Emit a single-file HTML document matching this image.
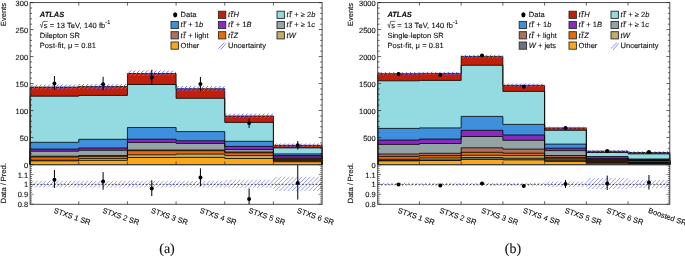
<!DOCTYPE html>
<html><head><meta charset="utf-8"><title>ATLAS ttH STXS post-fit yields</title>
<style>
html,body{margin:0;padding:0;background:#fff;}
body{width:685px;height:256px;overflow:hidden;}
svg{display:block;will-change:transform;}
svg text{font-family:"Liberation Sans",sans-serif;font-size:7.5px;fill:#111;stroke:#111;stroke-width:0.12px;text-rendering:geometricPrecision;}
svg text.cap{font-family:"Liberation Serif",serif;font-size:14px;}
</style></head>
<body>
<svg width="685" height="256" viewBox="0 0 685 256">
<defs>
<pattern id="hatch" width="4.2" height="4.2" patternUnits="userSpaceOnUse">
<path d="M-1,5.2L5.2,-1M-1,1L1,-1M3.2,5.2L5.2,3.2" stroke="#5c5cf5" stroke-width="0.75"/>
</pattern>
</defs>
<rect width="685" height="256" fill="#fff"/>
<path d="M30.10,164.5 L30.10,87.10 L78.77,87.10 L78.77,86.60 L127.43,86.60 L127.43,73.50 L176.10,73.50 L176.10,88.70 L224.77,88.70 L224.77,116.00 L273.43,116.00 L273.43,145.30 L322.10,145.30 L322.10,164.5Z" fill="#c0200a"/>
<path d="M30.10,164.5 L30.10,96.20 L78.77,96.20 L78.77,95.40 L127.43,95.40 L127.43,84.50 L176.10,84.50 L176.10,98.30 L224.77,98.30 L224.77,122.40 L273.43,122.40 L273.43,147.90 L322.10,147.90 L322.10,164.5Z" fill="#93dbe0"/>
<path d="M30.10,164.5 L30.10,142.30 L78.77,142.30 L78.77,139.30 L127.43,139.30 L127.43,127.50 L176.10,127.50 L176.10,131.60 L224.77,131.60 L224.77,141.30 L273.43,141.30 L273.43,153.90 L322.10,153.90 L322.10,164.5Z" fill="#3e8fdc"/>
<path d="M30.10,164.5 L30.10,149.10 L78.77,149.10 L78.77,148.00 L127.43,148.00 L127.43,139.20 L176.10,139.20 L176.10,140.80 L224.77,140.80 L224.77,146.40 L273.43,146.40 L273.43,155.60 L322.10,155.60 L322.10,164.5Z" fill="#8a2bbf"/>
<path d="M30.10,164.5 L30.10,151.20 L78.77,151.20 L78.77,150.30 L127.43,150.30 L127.43,142.40 L176.10,142.40 L176.10,143.40 L224.77,143.40 L224.77,149.50 L273.43,149.50 L273.43,157.20 L322.10,157.20 L322.10,164.5Z" fill="#92a5a4"/>
<path d="M30.10,164.5 L30.10,156.20 L78.77,156.20 L78.77,155.60 L127.43,155.60 L127.43,150.00 L176.10,150.00 L176.10,150.00 L224.77,150.00 L224.77,152.00 L273.43,152.00 L273.43,158.60 L322.10,158.60 L322.10,164.5Z" fill="#b07060"/>
<path d="M30.10,164.5 L30.10,157.00 L78.77,157.00 L78.77,156.30 L127.43,156.30 L127.43,150.70 L176.10,150.70 L176.10,150.70 L224.77,150.70 L224.77,152.80 L273.43,152.80 L273.43,159.80 L322.10,159.80 L322.10,164.5Z" fill="#e86a00"/>
<path d="M30.10,164.5 L30.10,160.20 L78.77,160.20 L78.77,158.60 L127.43,158.60 L127.43,154.80 L176.10,154.80 L176.10,154.10 L224.77,154.10 L224.77,155.60 L273.43,155.60 L273.43,160.80 L322.10,160.80 L322.10,164.5Z" fill="#c4ad6a"/>
<path d="M30.10,164.5 L30.10,160.90 L78.77,160.90 L78.77,160.40 L127.43,160.40 L127.43,157.50 L176.10,157.50 L176.10,157.40 L224.77,157.40 L224.77,158.50 L273.43,158.50 L273.43,161.80 L322.10,161.80 L322.10,164.5Z" fill="#fba818"/>
<path d="M30.10,164.5 L30.10,160.90 L78.77,160.90 L78.77,160.40 L127.43,160.40 L127.43,157.50 L176.10,157.50 L176.10,157.40 L224.77,157.40 L224.77,158.50 L273.43,158.50 L273.43,161.80 L322.10,161.80 L322.10,164.5" fill="none" stroke="#000" stroke-width="0.8"/>
<path d="M30.10,164.5 L30.10,160.20 L78.77,160.20 L78.77,158.60 L127.43,158.60 L127.43,154.80 L176.10,154.80 L176.10,154.10 L224.77,154.10 L224.77,155.60 L273.43,155.60 L273.43,160.80 L322.10,160.80 L322.10,164.5" fill="none" stroke="#000" stroke-width="0.8"/>
<path d="M30.10,164.5 L30.10,157.00 L78.77,157.00 L78.77,156.30 L127.43,156.30 L127.43,150.70 L176.10,150.70 L176.10,150.70 L224.77,150.70 L224.77,152.80 L273.43,152.80 L273.43,159.80 L322.10,159.80 L322.10,164.5" fill="none" stroke="#000" stroke-width="0.8"/>
<path d="M30.10,164.5 L30.10,156.20 L78.77,156.20 L78.77,155.60 L127.43,155.60 L127.43,150.00 L176.10,150.00 L176.10,150.00 L224.77,150.00 L224.77,152.00 L273.43,152.00 L273.43,158.60 L322.10,158.60 L322.10,164.5" fill="none" stroke="#000" stroke-width="0.8"/>
<path d="M30.10,164.5 L30.10,151.20 L78.77,151.20 L78.77,150.30 L127.43,150.30 L127.43,142.40 L176.10,142.40 L176.10,143.40 L224.77,143.40 L224.77,149.50 L273.43,149.50 L273.43,157.20 L322.10,157.20 L322.10,164.5" fill="none" stroke="#000" stroke-width="0.8"/>
<path d="M30.10,164.5 L30.10,149.10 L78.77,149.10 L78.77,148.00 L127.43,148.00 L127.43,139.20 L176.10,139.20 L176.10,140.80 L224.77,140.80 L224.77,146.40 L273.43,146.40 L273.43,155.60 L322.10,155.60 L322.10,164.5" fill="none" stroke="#000" stroke-width="0.8"/>
<path d="M30.10,164.5 L30.10,142.30 L78.77,142.30 L78.77,139.30 L127.43,139.30 L127.43,127.50 L176.10,127.50 L176.10,131.60 L224.77,131.60 L224.77,141.30 L273.43,141.30 L273.43,153.90 L322.10,153.90 L322.10,164.5" fill="none" stroke="#000" stroke-width="0.8"/>
<path d="M30.10,164.5 L30.10,96.20 L78.77,96.20 L78.77,95.40 L127.43,95.40 L127.43,84.50 L176.10,84.50 L176.10,98.30 L224.77,98.30 L224.77,122.40 L273.43,122.40 L273.43,147.90 L322.10,147.90 L322.10,164.5" fill="none" stroke="#000" stroke-width="0.8"/>
<path d="M30.10,164.5 L30.10,87.10 L78.77,87.10 L78.77,86.60 L127.43,86.60 L127.43,73.50 L176.10,73.50 L176.10,88.70 L224.77,88.70 L224.77,116.00 L273.43,116.00 L273.43,145.30 L322.10,145.30 L322.10,164.5" fill="none" stroke="#000" stroke-width="0.8"/>
<rect x="273.43" y="158.2" width="48.67" height="3.40" fill="#2a1708" fill-opacity="0.6"/>
<clipPath id="h1"><rect x="30.10" y="84.40" width="48.67" height="5.20"/></clipPath><path clip-path="url(#h1)" d="M23.30,90.10L29.50,83.90M27.50,90.10L33.70,83.90M31.70,90.10L37.90,83.90M35.90,90.10L42.10,83.90M40.10,90.10L46.30,83.90M44.30,90.10L50.50,83.90M48.50,90.10L54.70,83.90M52.70,90.10L58.90,83.90M56.90,90.10L63.10,83.90M61.10,90.10L67.30,83.90M65.30,90.10L71.50,83.90M69.50,90.10L75.70,83.90M73.70,90.10L79.90,83.90M77.90,90.10L84.10,83.90M82.10,90.10L88.30,83.90" stroke="#6c6cf8" stroke-width="1.0" fill="none"/>
<clipPath id="h2"><rect x="78.77" y="84.00" width="48.67" height="5.20"/></clipPath><path clip-path="url(#h2)" d="M69.90,89.70L76.10,83.50M74.10,89.70L80.30,83.50M78.30,89.70L84.50,83.50M82.50,89.70L88.70,83.50M86.70,89.70L92.90,83.50M90.90,89.70L97.10,83.50M95.10,89.70L101.30,83.50M99.30,89.70L105.50,83.50M103.50,89.70L109.70,83.50M107.70,89.70L113.90,83.50M111.90,89.70L118.10,83.50M116.10,89.70L122.30,83.50M120.30,89.70L126.50,83.50M124.50,89.70L130.70,83.50M128.70,89.70L134.90,83.50" stroke="#6c6cf8" stroke-width="1.0" fill="none"/>
<clipPath id="h3"><rect x="127.43" y="70.50" width="48.67" height="5.50"/></clipPath><path clip-path="url(#h3)" d="M120.90,76.50L127.40,70.00M125.10,76.50L131.60,70.00M129.30,76.50L135.80,70.00M133.50,76.50L140.00,70.00M137.70,76.50L144.20,70.00M141.90,76.50L148.40,70.00M146.10,76.50L152.60,70.00M150.30,76.50L156.80,70.00M154.50,76.50L161.00,70.00M158.70,76.50L165.20,70.00M162.90,76.50L169.40,70.00M167.10,76.50L173.60,70.00M171.30,76.50L177.80,70.00M175.50,76.50L182.00,70.00M179.70,76.50L186.20,70.00" stroke="#6c6cf8" stroke-width="1.0" fill="none"/>
<clipPath id="h4"><rect x="176.10" y="86.00" width="48.67" height="5.20"/></clipPath><path clip-path="url(#h4)" d="M168.70,91.70L174.90,85.50M172.90,91.70L179.10,85.50M177.10,91.70L183.30,85.50M181.30,91.70L187.50,85.50M185.50,91.70L191.70,85.50M189.70,91.70L195.90,85.50M193.90,91.70L200.10,85.50M198.10,91.70L204.30,85.50M202.30,91.70L208.50,85.50M206.50,91.70L212.70,85.50M210.70,91.70L216.90,85.50M214.90,91.70L221.10,85.50M219.10,91.70L225.30,85.50M223.30,91.70L229.50,85.50M227.50,91.70L233.70,85.50" stroke="#6c6cf8" stroke-width="1.0" fill="none"/>
<clipPath id="h5"><rect x="224.77" y="113.60" width="48.67" height="4.60"/></clipPath><path clip-path="url(#h5)" d="M217.30,118.70L222.90,113.10M221.50,118.70L227.10,113.10M225.70,118.70L231.30,113.10M229.90,118.70L235.50,113.10M234.10,118.70L239.70,113.10M238.30,118.70L243.90,113.10M242.50,118.70L248.10,113.10M246.70,118.70L252.30,113.10M250.90,118.70L256.50,113.10M255.10,118.70L260.70,113.10M259.30,118.70L264.90,113.10M263.50,118.70L269.10,113.10M267.70,118.70L273.30,113.10M271.90,118.70L277.50,113.10M276.10,118.70L281.70,113.10" stroke="#6c6cf8" stroke-width="1.0" fill="none"/>
<clipPath id="h6"><rect x="273.43" y="143.40" width="48.67" height="3.60"/></clipPath><path clip-path="url(#h6)" d="M268.30,147.50L272.90,142.90M272.50,147.50L277.10,142.90M276.70,147.50L281.30,142.90M280.90,147.50L285.50,142.90M285.10,147.50L289.70,142.90M289.30,147.50L293.90,142.90M293.50,147.50L298.10,142.90M297.70,147.50L302.30,142.90M301.90,147.50L306.50,142.90M306.10,147.50L310.70,142.90M310.30,147.50L314.90,142.90M314.50,147.50L319.10,142.90M318.70,147.50L323.30,142.90M322.90,147.50L327.50,142.90" stroke="#6c6cf8" stroke-width="1.0" fill="none"/>
<rect x="30.1" y="2.6" width="292.00" height="161.90" fill="none" stroke="#3a3a3a" stroke-width="0.9"/>
<path d="M30.1,164.50h3.4 M322.1,164.50h-3.4" stroke="#222" stroke-width="0.7"/>
<path d="M30.1,159.10h1.9 M322.1,159.10h-1.9" stroke="#222" stroke-width="0.7"/>
<path d="M30.1,153.71h1.9 M322.1,153.71h-1.9" stroke="#222" stroke-width="0.7"/>
<path d="M30.1,148.31h1.9 M322.1,148.31h-1.9" stroke="#222" stroke-width="0.7"/>
<path d="M30.1,142.91h1.9 M322.1,142.91h-1.9" stroke="#222" stroke-width="0.7"/>
<path d="M30.1,137.52h3.4 M322.1,137.52h-3.4" stroke="#222" stroke-width="0.7"/>
<path d="M30.1,132.12h1.9 M322.1,132.12h-1.9" stroke="#222" stroke-width="0.7"/>
<path d="M30.1,126.72h1.9 M322.1,126.72h-1.9" stroke="#222" stroke-width="0.7"/>
<path d="M30.1,121.33h1.9 M322.1,121.33h-1.9" stroke="#222" stroke-width="0.7"/>
<path d="M30.1,115.93h1.9 M322.1,115.93h-1.9" stroke="#222" stroke-width="0.7"/>
<path d="M30.1,110.53h3.4 M322.1,110.53h-3.4" stroke="#222" stroke-width="0.7"/>
<path d="M30.1,105.14h1.9 M322.1,105.14h-1.9" stroke="#222" stroke-width="0.7"/>
<path d="M30.1,99.74h1.9 M322.1,99.74h-1.9" stroke="#222" stroke-width="0.7"/>
<path d="M30.1,94.34h1.9 M322.1,94.34h-1.9" stroke="#222" stroke-width="0.7"/>
<path d="M30.1,88.95h1.9 M322.1,88.95h-1.9" stroke="#222" stroke-width="0.7"/>
<path d="M30.1,83.55h3.4 M322.1,83.55h-3.4" stroke="#222" stroke-width="0.7"/>
<path d="M30.1,78.15h1.9 M322.1,78.15h-1.9" stroke="#222" stroke-width="0.7"/>
<path d="M30.1,72.76h1.9 M322.1,72.76h-1.9" stroke="#222" stroke-width="0.7"/>
<path d="M30.1,67.36h1.9 M322.1,67.36h-1.9" stroke="#222" stroke-width="0.7"/>
<path d="M30.1,61.96h1.9 M322.1,61.96h-1.9" stroke="#222" stroke-width="0.7"/>
<path d="M30.1,56.57h3.4 M322.1,56.57h-3.4" stroke="#222" stroke-width="0.7"/>
<path d="M30.1,51.17h1.9 M322.1,51.17h-1.9" stroke="#222" stroke-width="0.7"/>
<path d="M30.1,45.77h1.9 M322.1,45.77h-1.9" stroke="#222" stroke-width="0.7"/>
<path d="M30.1,40.38h1.9 M322.1,40.38h-1.9" stroke="#222" stroke-width="0.7"/>
<path d="M30.1,34.98h1.9 M322.1,34.98h-1.9" stroke="#222" stroke-width="0.7"/>
<path d="M30.1,29.58h3.4 M322.1,29.58h-3.4" stroke="#222" stroke-width="0.7"/>
<path d="M30.1,24.19h1.9 M322.1,24.19h-1.9" stroke="#222" stroke-width="0.7"/>
<path d="M30.1,18.79h1.9 M322.1,18.79h-1.9" stroke="#222" stroke-width="0.7"/>
<path d="M30.1,13.39h1.9 M322.1,13.39h-1.9" stroke="#222" stroke-width="0.7"/>
<path d="M30.1,8.00h1.9 M322.1,8.00h-1.9" stroke="#222" stroke-width="0.7"/>
<path d="M30.1,2.60h3.4 M322.1,2.60h-3.4" stroke="#222" stroke-width="0.7"/>
<path d="M78.77,2.6v3 M78.77,164.5v-3" stroke="#222" stroke-width="0.7"/>
<path d="M127.43,2.6v3 M127.43,164.5v-3" stroke="#222" stroke-width="0.7"/>
<path d="M176.10,2.6v3 M176.10,164.5v-3" stroke="#222" stroke-width="0.7"/>
<path d="M224.77,2.6v3 M224.77,164.5v-3" stroke="#222" stroke-width="0.7"/>
<path d="M273.43,2.6v3 M273.43,164.5v-3" stroke="#222" stroke-width="0.7"/>
<text x="28.1" y="167.60" text-anchor="end">0</text>
<text x="28.1" y="140.62" text-anchor="end">50</text>
<text x="28.1" y="113.63" text-anchor="end">100</text>
<text x="28.1" y="86.65" text-anchor="end">150</text>
<text x="28.1" y="59.67" text-anchor="end">200</text>
<text x="28.1" y="32.68" text-anchor="end">250</text>
<text x="28.1" y="5.70" text-anchor="end">300</text>
<clipPath id="h7"><rect x="30.10" y="180.80" width="48.67" height="6.80"/></clipPath><path clip-path="url(#h7)" d="M21.90,188.10L29.70,180.30M26.10,188.10L33.90,180.30M30.30,188.10L38.10,180.30M34.50,188.10L42.30,180.30M38.70,188.10L46.50,180.30M42.90,188.10L50.70,180.30M47.10,188.10L54.90,180.30M51.30,188.10L59.10,180.30M55.50,188.10L63.30,180.30M59.70,188.10L67.50,180.30M63.90,188.10L71.70,180.30M68.10,188.10L75.90,180.30M72.30,188.10L80.10,180.30M76.50,188.10L84.30,180.30M80.70,188.10L88.50,180.30" stroke="#7a7af6" stroke-width="0.75" fill="none"/>
<clipPath id="h8"><rect x="78.77" y="180.80" width="48.67" height="6.80"/></clipPath><path clip-path="url(#h8)" d="M68.10,188.10L75.90,180.30M72.30,188.10L80.10,180.30M76.50,188.10L84.30,180.30M80.70,188.10L88.50,180.30M84.90,188.10L92.70,180.30M89.10,188.10L96.90,180.30M93.30,188.10L101.10,180.30M97.50,188.10L105.30,180.30M101.70,188.10L109.50,180.30M105.90,188.10L113.70,180.30M110.10,188.10L117.90,180.30M114.30,188.10L122.10,180.30M118.50,188.10L126.30,180.30M122.70,188.10L130.50,180.30M126.90,188.10L134.70,180.30M131.10,188.10L138.90,180.30" stroke="#7a7af6" stroke-width="0.75" fill="none"/>
<clipPath id="h9"><rect x="127.43" y="180.80" width="48.67" height="6.80"/></clipPath><path clip-path="url(#h9)" d="M118.50,188.10L126.30,180.30M122.70,188.10L130.50,180.30M126.90,188.10L134.70,180.30M131.10,188.10L138.90,180.30M135.30,188.10L143.10,180.30M139.50,188.10L147.30,180.30M143.70,188.10L151.50,180.30M147.90,188.10L155.70,180.30M152.10,188.10L159.90,180.30M156.30,188.10L164.10,180.30M160.50,188.10L168.30,180.30M164.70,188.10L172.50,180.30M168.90,188.10L176.70,180.30M173.10,188.10L180.90,180.30M177.30,188.10L185.10,180.30" stroke="#7a7af6" stroke-width="0.75" fill="none"/>
<clipPath id="h10"><rect x="176.10" y="180.80" width="48.67" height="6.80"/></clipPath><path clip-path="url(#h10)" d="M164.70,188.10L172.50,180.30M168.90,188.10L176.70,180.30M173.10,188.10L180.90,180.30M177.30,188.10L185.10,180.30M181.50,188.10L189.30,180.30M185.70,188.10L193.50,180.30M189.90,188.10L197.70,180.30M194.10,188.10L201.90,180.30M198.30,188.10L206.10,180.30M202.50,188.10L210.30,180.30M206.70,188.10L214.50,180.30M210.90,188.10L218.70,180.30M215.10,188.10L222.90,180.30M219.30,188.10L227.10,180.30M223.50,188.10L231.30,180.30M227.70,188.10L235.50,180.30" stroke="#7a7af6" stroke-width="0.75" fill="none"/>
<clipPath id="h11"><rect x="224.77" y="179.70" width="48.67" height="8.10"/></clipPath><path clip-path="url(#h11)" d="M214.90,188.30L224.00,179.20M219.10,188.30L228.20,179.20M223.30,188.30L232.40,179.20M227.50,188.30L236.60,179.20M231.70,188.30L240.80,179.20M235.90,188.30L245.00,179.20M240.10,188.30L249.20,179.20M244.30,188.30L253.40,179.20M248.50,188.30L257.60,179.20M252.70,188.30L261.80,179.20M256.90,188.30L266.00,179.20M261.10,188.30L270.20,179.20M265.30,188.30L274.40,179.20M269.50,188.30L278.60,179.20M273.70,188.30L282.80,179.20" stroke="#7a7af6" stroke-width="0.75" fill="none"/>
<clipPath id="h12"><rect x="273.43" y="176.70" width="48.67" height="14.40"/></clipPath><path clip-path="url(#h12)" d="M257.80,191.60L273.20,176.20M262.00,191.60L277.40,176.20M266.20,191.60L281.60,176.20M270.40,191.60L285.80,176.20M274.60,191.60L290.00,176.20M278.80,191.60L294.20,176.20M283.00,191.60L298.40,176.20M287.20,191.60L302.60,176.20M291.40,191.60L306.80,176.20M295.60,191.60L311.00,176.20M299.80,191.60L315.20,176.20M304.00,191.60L319.40,176.20M308.20,191.60L323.60,176.20M312.40,191.60L327.80,176.20M316.60,191.60L332.00,176.20M320.80,191.60L336.20,176.20M325.00,191.60L340.40,176.20" stroke="#7a7af6" stroke-width="0.75" fill="none"/>
<path d="M30.1,184.40H322.1" stroke="#222" stroke-width="0.8" stroke-dasharray="1.7,1.7"/>
<rect x="30.1" y="164.9" width="292.00" height="39.40" fill="none" stroke="#3a3a3a" stroke-width="0.9"/>
<path d="M30.1,204.10h3.4 M322.1,204.10h-3.4" stroke="#222" stroke-width="0.6"/>
<path d="M30.1,202.13h1.9 M322.1,202.13h-1.9" stroke="#222" stroke-width="0.6"/>
<path d="M30.1,200.16h1.9 M322.1,200.16h-1.9" stroke="#222" stroke-width="0.6"/>
<path d="M30.1,198.19h1.9 M322.1,198.19h-1.9" stroke="#222" stroke-width="0.6"/>
<path d="M30.1,196.22h1.9 M322.1,196.22h-1.9" stroke="#222" stroke-width="0.6"/>
<path d="M30.1,194.25h3.4 M322.1,194.25h-3.4" stroke="#222" stroke-width="0.6"/>
<path d="M30.1,192.28h1.9 M322.1,192.28h-1.9" stroke="#222" stroke-width="0.6"/>
<path d="M30.1,190.31h1.9 M322.1,190.31h-1.9" stroke="#222" stroke-width="0.6"/>
<path d="M30.1,188.34h1.9 M322.1,188.34h-1.9" stroke="#222" stroke-width="0.6"/>
<path d="M30.1,186.37h1.9 M322.1,186.37h-1.9" stroke="#222" stroke-width="0.6"/>
<path d="M30.1,184.40h3.4 M322.1,184.40h-3.4" stroke="#222" stroke-width="0.6"/>
<path d="M30.1,182.43h1.9 M322.1,182.43h-1.9" stroke="#222" stroke-width="0.6"/>
<path d="M30.1,180.46h1.9 M322.1,180.46h-1.9" stroke="#222" stroke-width="0.6"/>
<path d="M30.1,178.49h1.9 M322.1,178.49h-1.9" stroke="#222" stroke-width="0.6"/>
<path d="M30.1,176.52h1.9 M322.1,176.52h-1.9" stroke="#222" stroke-width="0.6"/>
<path d="M30.1,174.55h3.4 M322.1,174.55h-3.4" stroke="#222" stroke-width="0.6"/>
<path d="M30.1,172.58h1.9 M322.1,172.58h-1.9" stroke="#222" stroke-width="0.6"/>
<path d="M30.1,170.61h1.9 M322.1,170.61h-1.9" stroke="#222" stroke-width="0.6"/>
<path d="M30.1,168.64h1.9 M322.1,168.64h-1.9" stroke="#222" stroke-width="0.6"/>
<path d="M30.1,166.67h1.9 M322.1,166.67h-1.9" stroke="#222" stroke-width="0.6"/>
<path d="M30.1,164.70h3.4 M322.1,164.70h-3.4" stroke="#222" stroke-width="0.6"/>
<path d="M78.77,204.3v-3" stroke="#222" stroke-width="0.7"/>
<path d="M127.43,204.3v-3" stroke="#222" stroke-width="0.7"/>
<path d="M176.10,204.3v-3" stroke="#222" stroke-width="0.7"/>
<path d="M224.77,204.3v-3" stroke="#222" stroke-width="0.7"/>
<path d="M273.43,204.3v-3" stroke="#222" stroke-width="0.7"/>
<text x="28.1" y="207.10" text-anchor="end">0.8</text>
<text x="28.1" y="197.25" text-anchor="end">0.9</text>
<text x="28.1" y="187.40" text-anchor="end">1</text>
<text x="28.1" y="177.55" text-anchor="end">1.1</text>
<clipPath id="cm30"><rect x="30.1" y="2.6" width="292.00" height="161.90"/></clipPath>
<clipPath id="cr30"><rect x="30.1" y="164.9" width="292.00" height="39.40"/></clipPath>
<g clip-path="url(#cm30)">
<path d="M54.43,76.00V90.00" stroke="#000" stroke-width="1"/>
<circle cx="54.43" cy="83.60" r="2" fill="#000"/>
<path d="M103.10,76.80V90.20" stroke="#000" stroke-width="1"/>
<circle cx="103.10" cy="84.20" r="2" fill="#000"/>
<path d="M151.77,69.80V84.40" stroke="#000" stroke-width="1"/>
<circle cx="151.77" cy="77.40" r="2" fill="#000"/>
<path d="M200.43,77.00V90.80" stroke="#000" stroke-width="1"/>
<circle cx="200.43" cy="84.00" r="2" fill="#000"/>
<path d="M249.10,118.40V127.90" stroke="#000" stroke-width="1"/>
<circle cx="249.10" cy="123.10" r="2" fill="#000"/>
<path d="M297.77,141.00V149.50" stroke="#000" stroke-width="1"/>
<circle cx="297.77" cy="145.30" r="2" fill="#000"/>
</g>
<g clip-path="url(#cr30)">
<path d="M54.43,170.00V188.00" stroke="#000" stroke-width="1"/>
<circle cx="54.43" cy="179.70" r="2" fill="#000"/>
<path d="M103.10,172.10V189.70" stroke="#000" stroke-width="1"/>
<circle cx="103.10" cy="181.50" r="2" fill="#000"/>
<path d="M151.77,180.20V196.00" stroke="#000" stroke-width="1"/>
<circle cx="151.77" cy="188.50" r="2" fill="#000"/>
<path d="M200.43,168.30V186.20" stroke="#000" stroke-width="1"/>
<circle cx="200.43" cy="177.40" r="2" fill="#000"/>
<path d="M249.10,188.50V210.00" stroke="#000" stroke-width="1"/>
<circle cx="249.10" cy="199.00" r="2" fill="#000"/>
<path d="M297.77,160.00V199.60" stroke="#000" stroke-width="1"/>
<circle cx="297.77" cy="182.90" r="2" fill="#000"/>
</g>
<text transform="translate(53.23,212.6) rotate(19)" font-size="7.0">STXS 1 SR</text>
<text transform="translate(101.90,212.6) rotate(19)" font-size="7.0">STXS 2 SR</text>
<text transform="translate(150.57,212.6) rotate(19)" font-size="7.0">STXS 3 SR</text>
<text transform="translate(199.23,212.6) rotate(19)" font-size="7.0">STXS 4 SR</text>
<text transform="translate(247.90,212.6) rotate(19)" font-size="7.0">STXS 5 SR</text>
<text transform="translate(296.57,212.6) rotate(19)" font-size="7.0">STXS 6 SR</text>
<text transform="translate(5.8,3.0) rotate(-90)" text-anchor="end">Events</text>
<text transform="translate(5.8,163.2) rotate(-90)" text-anchor="end">Data / Pred.</text>
<text x="39.8" y="16.9" font-weight="bold" font-style="italic" font-size="7.8">ATLAS</text>
<path d="M39.90,24.9l0.8,-0.5l1.0,3.2l1.3,-6.2h4.8" fill="none" stroke="#111" stroke-width="0.6"/>
<text x="43.7" y="27.5" font-size="7.6" letter-spacing="0.1">s = 13 TeV, 140 fb<tspan dy="-3.2" font-size="5.4">-1</tspan></text>
<text x="39.8" y="37.6">Dilepton SR</text>
<text x="39.8" y="47.8" letter-spacing="0.07">Post-fit, μ = 0.81</text>
<ellipse cx="175.2" cy="14.8" rx="2.1" ry="2.6" fill="#000"/>
<text x="180.6" y="17.2">Data</text>
<rect x="218.4" y="11.2" width="7.4" height="7.2" fill="#c0200a" stroke="#2a2a2a" stroke-width="0.9"/>
<text x="228.0" y="17.2"><tspan font-style="italic">t</tspan><tspan font-style="italic" dx="0.6">t</tspan><tspan font-style="italic" dx="0.8">H</tspan></text>
<path d="M230.70,11.70h3.2" stroke="#111" stroke-width="0.9"/>
<rect x="277.0" y="11.2" width="7.4" height="7.2" fill="#93dbe0" stroke="#2a2a2a" stroke-width="0.9"/>
<text x="286.6" y="17.2"><tspan font-style="italic">t</tspan><tspan font-style="italic" dx="0.6">t</tspan><tspan dx="0.9"> +  ≥ 2</tspan><tspan font-style="italic" dx="0">b</tspan></text>
<path d="M289.30,11.70h3.2" stroke="#111" stroke-width="0.9"/>
<rect x="171.0" y="21.4" width="7.4" height="7.2" fill="#3e8fdc" stroke="#2a2a2a" stroke-width="0.9"/>
<text x="180.6" y="27.4"><tspan font-style="italic">t</tspan><tspan font-style="italic" dx="0.6">t</tspan><tspan dx="0.9"> + 1</tspan><tspan font-style="italic" dx="0">b</tspan></text>
<path d="M183.30,21.90h3.2" stroke="#111" stroke-width="0.9"/>
<rect x="218.4" y="21.4" width="7.4" height="7.2" fill="#8a2bbf" stroke="#2a2a2a" stroke-width="0.9"/>
<text x="228.0" y="27.4"><tspan font-style="italic">t</tspan><tspan font-style="italic" dx="0.6">t</tspan><tspan dx="0.9"> + 1</tspan><tspan font-style="italic" dx="0">B</tspan></text>
<path d="M230.70,21.90h3.2" stroke="#111" stroke-width="0.9"/>
<rect x="277.0" y="21.4" width="7.4" height="7.2" fill="#92a5a4" stroke="#2a2a2a" stroke-width="0.9"/>
<text x="286.6" y="27.4"><tspan font-style="italic">t</tspan><tspan font-style="italic" dx="0.6">t</tspan><tspan dx="0.9"> +  ≥ 1</tspan><tspan font-style="italic" dx="0">c</tspan></text>
<path d="M289.30,21.90h3.2" stroke="#111" stroke-width="0.9"/>
<rect x="171.0" y="31.7" width="7.4" height="7.2" fill="#b07060" stroke="#2a2a2a" stroke-width="0.9"/>
<text x="180.6" y="37.7"><tspan font-style="italic">t</tspan><tspan font-style="italic" dx="0.6">t</tspan><tspan dx="0.9"> + light</tspan></text>
<path d="M183.30,32.20h3.2" stroke="#111" stroke-width="0.9"/>
<rect x="218.4" y="31.7" width="7.4" height="7.2" fill="#e86a00" stroke="#2a2a2a" stroke-width="0.9"/>
<text x="228.0" y="37.7"><tspan font-style="italic">t</tspan><tspan font-style="italic" dx="0.6">t</tspan><tspan font-style="italic" dx="0.8">Z</tspan></text>
<path d="M230.70,32.20h3.2" stroke="#111" stroke-width="0.9"/>
<rect x="277.0" y="31.7" width="7.4" height="7.2" fill="#c4ad6a" stroke="#2a2a2a" stroke-width="0.9"/>
<text x="286.6" y="37.7"><tspan font-style="italic" dx="0">tW</tspan></text>
<rect x="171.0" y="42.0" width="7.4" height="7.2" fill="#fba818" stroke="#2a2a2a" stroke-width="0.9"/>
<text x="180.6" y="48.0">Other</text>
<path d="M218.4,48.5L224.5,42.5M220.5,49.9L226.2,43.3" stroke="#8080f8" stroke-width="0.9" fill="none"/>
<text x="228.0" y="48.0">Uncertainty</text>
<path d="M377.70,164.5 L377.70,73.70 L419.43,73.70 L419.43,73.40 L461.16,73.40 L461.16,56.40 L502.89,56.40 L502.89,85.30 L544.61,85.30 L544.61,127.90 L586.34,127.90 L586.34,151.20 L628.07,151.20 L628.07,152.50 L669.80,152.50 L669.80,164.5Z" fill="#c0200a"/>
<path d="M377.70,164.5 L377.70,80.80 L419.43,80.80 L419.43,80.40 L461.16,80.40 L461.16,65.30 L502.89,65.30 L502.89,91.40 L544.61,91.40 L544.61,130.30 L586.34,130.30 L586.34,152.50 L628.07,152.50 L628.07,153.90 L669.80,153.90 L669.80,164.5Z" fill="#93dbe0"/>
<path d="M377.70,164.5 L377.70,128.40 L419.43,128.40 L419.43,127.90 L461.16,127.90 L461.16,116.40 L502.89,116.40 L502.89,124.40 L544.61,124.40 L544.61,144.10 L586.34,144.10 L586.34,156.50 L628.07,156.50 L628.07,159.00 L669.80,159.00 L669.80,164.5Z" fill="#3e8fdc"/>
<path d="M377.70,164.5 L377.70,140.10 L419.43,140.10 L419.43,139.10 L461.16,139.10 L461.16,130.30 L502.89,130.30 L502.89,135.00 L544.61,135.00 L544.61,148.20 L586.34,148.20 L586.34,158.00 L628.07,158.00 L628.07,159.80 L669.80,159.80 L669.80,164.5Z" fill="#8a2bbf"/>
<path d="M377.70,164.5 L377.70,144.40 L419.43,144.40 L419.43,143.50 L461.16,143.50 L461.16,136.50 L502.89,136.50 L502.89,140.30 L544.61,140.30 L544.61,150.60 L586.34,150.60 L586.34,159.00 L628.07,159.00 L628.07,160.40 L669.80,160.40 L669.80,164.5Z" fill="#92a5a4"/>
<path d="M377.70,164.5 L377.70,154.00 L419.43,154.00 L419.43,153.30 L461.16,153.30 L461.16,147.80 L502.89,147.80 L502.89,149.10 L544.61,149.10 L544.61,155.50 L586.34,155.50 L586.34,159.80 L628.07,159.80 L628.07,161.00 L669.80,161.00 L669.80,164.5Z" fill="#b07060"/>
<path d="M377.70,164.5 L377.70,156.40 L419.43,156.40 L419.43,155.60 L461.16,155.60 L461.16,152.30 L502.89,152.30 L502.89,153.20 L544.61,153.20 L544.61,157.40 L586.34,157.40 L586.34,160.80 L628.07,160.80 L628.07,161.60 L669.80,161.60 L669.80,164.5Z" fill="#e86a00"/>
<path d="M377.70,164.5 L377.70,159.30 L419.43,159.30 L419.43,158.00 L461.16,158.00 L461.16,155.30 L502.89,155.30 L502.89,155.60 L544.61,155.60 L544.61,158.80 L586.34,158.80 L586.34,161.80 L628.07,161.80 L628.07,162.20 L669.80,162.20 L669.80,164.5Z" fill="#c4ad6a"/>
<path d="M377.70,164.5 L377.70,160.30 L419.43,160.30 L419.43,159.90 L461.16,159.90 L461.16,157.50 L502.89,157.50 L502.89,158.20 L544.61,158.20 L544.61,160.20 L586.34,160.20 L586.34,162.60 L628.07,162.60 L628.07,162.80 L669.80,162.80 L669.80,164.5Z" fill="#6b7280"/>
<path d="M377.70,164.5 L377.70,160.90 L419.43,160.90 L419.43,160.50 L461.16,160.50 L461.16,159.40 L502.89,159.40 L502.89,159.90 L544.61,159.90 L544.61,161.40 L586.34,161.40 L586.34,163.20 L628.07,163.20 L628.07,163.40 L669.80,163.40 L669.80,164.5Z" fill="#fba818"/>
<path d="M377.70,164.5 L377.70,160.90 L419.43,160.90 L419.43,160.50 L461.16,160.50 L461.16,159.40 L502.89,159.40 L502.89,159.90 L544.61,159.90 L544.61,161.40 L586.34,161.40 L586.34,163.20 L628.07,163.20 L628.07,163.40 L669.80,163.40 L669.80,164.5" fill="none" stroke="#000" stroke-width="0.8"/>
<path d="M377.70,164.5 L377.70,160.30 L419.43,160.30 L419.43,159.90 L461.16,159.90 L461.16,157.50 L502.89,157.50 L502.89,158.20 L544.61,158.20 L544.61,160.20 L586.34,160.20 L586.34,162.60 L628.07,162.60 L628.07,162.80 L669.80,162.80 L669.80,164.5" fill="none" stroke="#000" stroke-width="0.8"/>
<path d="M377.70,164.5 L377.70,159.30 L419.43,159.30 L419.43,158.00 L461.16,158.00 L461.16,155.30 L502.89,155.30 L502.89,155.60 L544.61,155.60 L544.61,158.80 L586.34,158.80 L586.34,161.80 L628.07,161.80 L628.07,162.20 L669.80,162.20 L669.80,164.5" fill="none" stroke="#000" stroke-width="0.8"/>
<path d="M377.70,164.5 L377.70,156.40 L419.43,156.40 L419.43,155.60 L461.16,155.60 L461.16,152.30 L502.89,152.30 L502.89,153.20 L544.61,153.20 L544.61,157.40 L586.34,157.40 L586.34,160.80 L628.07,160.80 L628.07,161.60 L669.80,161.60 L669.80,164.5" fill="none" stroke="#000" stroke-width="0.8"/>
<path d="M377.70,164.5 L377.70,154.00 L419.43,154.00 L419.43,153.30 L461.16,153.30 L461.16,147.80 L502.89,147.80 L502.89,149.10 L544.61,149.10 L544.61,155.50 L586.34,155.50 L586.34,159.80 L628.07,159.80 L628.07,161.00 L669.80,161.00 L669.80,164.5" fill="none" stroke="#000" stroke-width="0.8"/>
<path d="M377.70,164.5 L377.70,144.40 L419.43,144.40 L419.43,143.50 L461.16,143.50 L461.16,136.50 L502.89,136.50 L502.89,140.30 L544.61,140.30 L544.61,150.60 L586.34,150.60 L586.34,159.00 L628.07,159.00 L628.07,160.40 L669.80,160.40 L669.80,164.5" fill="none" stroke="#000" stroke-width="0.8"/>
<path d="M377.70,164.5 L377.70,140.10 L419.43,140.10 L419.43,139.10 L461.16,139.10 L461.16,130.30 L502.89,130.30 L502.89,135.00 L544.61,135.00 L544.61,148.20 L586.34,148.20 L586.34,158.00 L628.07,158.00 L628.07,159.80 L669.80,159.80 L669.80,164.5" fill="none" stroke="#000" stroke-width="0.8"/>
<path d="M377.70,164.5 L377.70,128.40 L419.43,128.40 L419.43,127.90 L461.16,127.90 L461.16,116.40 L502.89,116.40 L502.89,124.40 L544.61,124.40 L544.61,144.10 L586.34,144.10 L586.34,156.50 L628.07,156.50 L628.07,159.00 L669.80,159.00 L669.80,164.5" fill="none" stroke="#000" stroke-width="0.8"/>
<path d="M377.70,164.5 L377.70,80.80 L419.43,80.80 L419.43,80.40 L461.16,80.40 L461.16,65.30 L502.89,65.30 L502.89,91.40 L544.61,91.40 L544.61,130.30 L586.34,130.30 L586.34,152.50 L628.07,152.50 L628.07,153.90 L669.80,153.90 L669.80,164.5" fill="none" stroke="#000" stroke-width="0.8"/>
<path d="M377.70,164.5 L377.70,73.70 L419.43,73.70 L419.43,73.40 L461.16,73.40 L461.16,56.40 L502.89,56.40 L502.89,85.30 L544.61,85.30 L544.61,127.90 L586.34,127.90 L586.34,151.20 L628.07,151.20 L628.07,152.50 L669.80,152.50 L669.80,164.5" fill="none" stroke="#000" stroke-width="0.8"/>
<rect x="586.34" y="158.9" width="41.73" height="4.30" fill="#2a1708" fill-opacity="0.8"/>
<rect x="628.07" y="159.5" width="41.73" height="4.70" fill="#0c0c0c" fill-opacity="0.88"/>
<rect x="628.07" y="161.0" width="41.73" height="0.50" fill="#7da0a0" fill-opacity="0.7"/>
<rect x="544.61" y="157.6" width="41.73" height="3.60" fill="#3a2410" fill-opacity="0.45"/>
<clipPath id="h13"><rect x="377.70" y="72.00" width="41.73" height="3.20"/></clipPath><path clip-path="url(#h13)" d="M373.70,75.70L377.90,71.50M377.90,75.70L382.10,71.50M382.10,75.70L386.30,71.50M386.30,75.70L390.50,71.50M390.50,75.70L394.70,71.50M394.70,75.70L398.90,71.50M398.90,75.70L403.10,71.50M403.10,75.70L407.30,71.50M407.30,75.70L411.50,71.50M411.50,75.70L415.70,71.50M415.70,75.70L419.90,71.50M419.90,75.70L424.10,71.50" stroke="#6c6cf8" stroke-width="1.0" fill="none"/>
<clipPath id="h14"><rect x="419.43" y="71.70" width="41.73" height="3.20"/></clipPath><path clip-path="url(#h14)" d="M411.80,75.40L416.00,71.20M416.00,75.40L420.20,71.20M420.20,75.40L424.40,71.20M424.40,75.40L428.60,71.20M428.60,75.40L432.80,71.20M432.80,75.40L437.00,71.20M437.00,75.40L441.20,71.20M441.20,75.40L445.40,71.20M445.40,75.40L449.60,71.20M449.60,75.40L453.80,71.20M453.80,75.40L458.00,71.20M458.00,75.40L462.20,71.20M462.20,75.40L466.40,71.20" stroke="#6c6cf8" stroke-width="1.0" fill="none"/>
<clipPath id="h15"><rect x="461.16" y="54.70" width="41.73" height="3.20"/></clipPath><path clip-path="url(#h15)" d="M454.00,58.40L458.20,54.20M458.20,58.40L462.40,54.20M462.40,58.40L466.60,54.20M466.60,58.40L470.80,54.20M470.80,58.40L475.00,54.20M475.00,58.40L479.20,54.20M479.20,58.40L483.40,54.20M483.40,58.40L487.60,54.20M487.60,58.40L491.80,54.20M491.80,58.40L496.00,54.20M496.00,58.40L500.20,54.20M500.20,58.40L504.40,54.20M504.40,58.40L508.60,54.20" stroke="#6c6cf8" stroke-width="1.0" fill="none"/>
<clipPath id="h16"><rect x="502.89" y="83.60" width="41.73" height="3.20"/></clipPath><path clip-path="url(#h16)" d="M496.50,87.30L500.70,83.10M500.70,87.30L504.90,83.10M504.90,87.30L509.10,83.10M509.10,87.30L513.30,83.10M513.30,87.30L517.50,83.10M517.50,87.30L521.70,83.10M521.70,87.30L525.90,83.10M525.90,87.30L530.10,83.10M530.10,87.30L534.30,83.10M534.30,87.30L538.50,83.10M538.50,87.30L542.70,83.10M542.70,87.30L546.90,83.10M546.90,87.30L551.10,83.10" stroke="#6c6cf8" stroke-width="1.0" fill="none"/>
<clipPath id="h17"><rect x="544.61" y="126.50" width="41.73" height="2.70"/></clipPath><path clip-path="url(#h17)" d="M538.10,129.70L541.80,126.00M542.30,129.70L546.00,126.00M546.50,129.70L550.20,126.00M550.70,129.70L554.40,126.00M554.90,129.70L558.60,126.00M559.10,129.70L562.80,126.00M563.30,129.70L567.00,126.00M567.50,129.70L571.20,126.00M571.70,129.70L575.40,126.00M575.90,129.70L579.60,126.00M580.10,129.70L583.80,126.00M584.30,129.70L588.00,126.00M588.50,129.70L592.20,126.00" stroke="#6c6cf8" stroke-width="1.0" fill="none"/>
<clipPath id="h18"><rect x="586.34" y="150.00" width="41.73" height="2.30"/></clipPath><path clip-path="url(#h18)" d="M582.20,152.80L585.50,149.50M586.40,152.80L589.70,149.50M590.60,152.80L593.90,149.50M594.80,152.80L598.10,149.50M599.00,152.80L602.30,149.50M603.20,152.80L606.50,149.50M607.40,152.80L610.70,149.50M611.60,152.80L614.90,149.50M615.80,152.80L619.10,149.50M620.00,152.80L623.30,149.50M624.20,152.80L627.50,149.50M628.40,152.80L631.70,149.50" stroke="#6c6cf8" stroke-width="1.0" fill="none"/>
<clipPath id="h19"><rect x="628.07" y="151.30" width="41.73" height="2.30"/></clipPath><path clip-path="url(#h19)" d="M622.90,154.10L626.20,150.80M627.10,154.10L630.40,150.80M631.30,154.10L634.60,150.80M635.50,154.10L638.80,150.80M639.70,154.10L643.00,150.80M643.90,154.10L647.20,150.80M648.10,154.10L651.40,150.80M652.30,154.10L655.60,150.80M656.50,154.10L659.80,150.80M660.70,154.10L664.00,150.80M664.90,154.10L668.20,150.80M669.10,154.10L672.40,150.80M673.30,154.10L676.60,150.80" stroke="#6c6cf8" stroke-width="1.0" fill="none"/>
<rect x="377.7" y="2.6" width="292.10" height="161.90" fill="none" stroke="#3a3a3a" stroke-width="0.9"/>
<path d="M377.7,164.50h3.4 M669.8,164.50h-3.4" stroke="#222" stroke-width="0.7"/>
<path d="M377.7,159.10h1.9 M669.8,159.10h-1.9" stroke="#222" stroke-width="0.7"/>
<path d="M377.7,153.71h1.9 M669.8,153.71h-1.9" stroke="#222" stroke-width="0.7"/>
<path d="M377.7,148.31h1.9 M669.8,148.31h-1.9" stroke="#222" stroke-width="0.7"/>
<path d="M377.7,142.91h1.9 M669.8,142.91h-1.9" stroke="#222" stroke-width="0.7"/>
<path d="M377.7,137.52h3.4 M669.8,137.52h-3.4" stroke="#222" stroke-width="0.7"/>
<path d="M377.7,132.12h1.9 M669.8,132.12h-1.9" stroke="#222" stroke-width="0.7"/>
<path d="M377.7,126.72h1.9 M669.8,126.72h-1.9" stroke="#222" stroke-width="0.7"/>
<path d="M377.7,121.33h1.9 M669.8,121.33h-1.9" stroke="#222" stroke-width="0.7"/>
<path d="M377.7,115.93h1.9 M669.8,115.93h-1.9" stroke="#222" stroke-width="0.7"/>
<path d="M377.7,110.53h3.4 M669.8,110.53h-3.4" stroke="#222" stroke-width="0.7"/>
<path d="M377.7,105.14h1.9 M669.8,105.14h-1.9" stroke="#222" stroke-width="0.7"/>
<path d="M377.7,99.74h1.9 M669.8,99.74h-1.9" stroke="#222" stroke-width="0.7"/>
<path d="M377.7,94.34h1.9 M669.8,94.34h-1.9" stroke="#222" stroke-width="0.7"/>
<path d="M377.7,88.95h1.9 M669.8,88.95h-1.9" stroke="#222" stroke-width="0.7"/>
<path d="M377.7,83.55h3.4 M669.8,83.55h-3.4" stroke="#222" stroke-width="0.7"/>
<path d="M377.7,78.15h1.9 M669.8,78.15h-1.9" stroke="#222" stroke-width="0.7"/>
<path d="M377.7,72.76h1.9 M669.8,72.76h-1.9" stroke="#222" stroke-width="0.7"/>
<path d="M377.7,67.36h1.9 M669.8,67.36h-1.9" stroke="#222" stroke-width="0.7"/>
<path d="M377.7,61.96h1.9 M669.8,61.96h-1.9" stroke="#222" stroke-width="0.7"/>
<path d="M377.7,56.57h3.4 M669.8,56.57h-3.4" stroke="#222" stroke-width="0.7"/>
<path d="M377.7,51.17h1.9 M669.8,51.17h-1.9" stroke="#222" stroke-width="0.7"/>
<path d="M377.7,45.77h1.9 M669.8,45.77h-1.9" stroke="#222" stroke-width="0.7"/>
<path d="M377.7,40.38h1.9 M669.8,40.38h-1.9" stroke="#222" stroke-width="0.7"/>
<path d="M377.7,34.98h1.9 M669.8,34.98h-1.9" stroke="#222" stroke-width="0.7"/>
<path d="M377.7,29.58h3.4 M669.8,29.58h-3.4" stroke="#222" stroke-width="0.7"/>
<path d="M377.7,24.19h1.9 M669.8,24.19h-1.9" stroke="#222" stroke-width="0.7"/>
<path d="M377.7,18.79h1.9 M669.8,18.79h-1.9" stroke="#222" stroke-width="0.7"/>
<path d="M377.7,13.39h1.9 M669.8,13.39h-1.9" stroke="#222" stroke-width="0.7"/>
<path d="M377.7,8.00h1.9 M669.8,8.00h-1.9" stroke="#222" stroke-width="0.7"/>
<path d="M377.7,2.60h3.4 M669.8,2.60h-3.4" stroke="#222" stroke-width="0.7"/>
<path d="M419.43,2.6v3 M419.43,164.5v-3" stroke="#222" stroke-width="0.7"/>
<path d="M461.16,2.6v3 M461.16,164.5v-3" stroke="#222" stroke-width="0.7"/>
<path d="M502.89,2.6v3 M502.89,164.5v-3" stroke="#222" stroke-width="0.7"/>
<path d="M544.61,2.6v3 M544.61,164.5v-3" stroke="#222" stroke-width="0.7"/>
<path d="M586.34,2.6v3 M586.34,164.5v-3" stroke="#222" stroke-width="0.7"/>
<path d="M628.07,2.6v3 M628.07,164.5v-3" stroke="#222" stroke-width="0.7"/>
<text x="375.7" y="167.60" text-anchor="end">0</text>
<text x="375.7" y="140.62" text-anchor="end">500</text>
<text x="375.7" y="113.63" text-anchor="end">1000</text>
<text x="375.7" y="86.65" text-anchor="end">1500</text>
<text x="375.7" y="59.67" text-anchor="end">2000</text>
<text x="375.7" y="32.68" text-anchor="end">2500</text>
<text x="375.7" y="5.70" text-anchor="end">3000</text>
<clipPath id="h20"><rect x="377.70" y="182.80" width="41.73" height="3.20"/></clipPath><path clip-path="url(#h20)" d="M372.10,186.50L376.30,182.30M376.30,186.50L380.50,182.30M380.50,186.50L384.70,182.30M384.70,186.50L388.90,182.30M388.90,186.50L393.10,182.30M393.10,186.50L397.30,182.30M397.30,186.50L401.50,182.30M401.50,186.50L405.70,182.30M405.70,186.50L409.90,182.30M409.90,186.50L414.10,182.30M414.10,186.50L418.30,182.30M418.30,186.50L422.50,182.30M422.50,186.50L426.70,182.30" stroke="#7a7af6" stroke-width="0.75" fill="none"/>
<clipPath id="h21"><rect x="419.43" y="182.80" width="41.73" height="3.20"/></clipPath><path clip-path="url(#h21)" d="M414.10,186.50L418.30,182.30M418.30,186.50L422.50,182.30M422.50,186.50L426.70,182.30M426.70,186.50L430.90,182.30M430.90,186.50L435.10,182.30M435.10,186.50L439.30,182.30M439.30,186.50L443.50,182.30M443.50,186.50L447.70,182.30M447.70,186.50L451.90,182.30M451.90,186.50L456.10,182.30M456.10,186.50L460.30,182.30M460.30,186.50L464.50,182.30M464.50,186.50L468.70,182.30" stroke="#7a7af6" stroke-width="0.75" fill="none"/>
<clipPath id="h22"><rect x="461.16" y="182.80" width="41.73" height="3.20"/></clipPath><path clip-path="url(#h22)" d="M456.10,186.50L460.30,182.30M460.30,186.50L464.50,182.30M464.50,186.50L468.70,182.30M468.70,186.50L472.90,182.30M472.90,186.50L477.10,182.30M477.10,186.50L481.30,182.30M481.30,186.50L485.50,182.30M485.50,186.50L489.70,182.30M489.70,186.50L493.90,182.30M493.90,186.50L498.10,182.30M498.10,186.50L502.30,182.30M502.30,186.50L506.50,182.30M506.50,186.50L510.70,182.30" stroke="#7a7af6" stroke-width="0.75" fill="none"/>
<clipPath id="h23"><rect x="502.89" y="182.80" width="41.73" height="3.20"/></clipPath><path clip-path="url(#h23)" d="M498.10,186.50L502.30,182.30M502.30,186.50L506.50,182.30M506.50,186.50L510.70,182.30M510.70,186.50L514.90,182.30M514.90,186.50L519.10,182.30M519.10,186.50L523.30,182.30M523.30,186.50L527.50,182.30M527.50,186.50L531.70,182.30M531.70,186.50L535.90,182.30M535.90,186.50L540.10,182.30M540.10,186.50L544.30,182.30M544.30,186.50L548.50,182.30" stroke="#7a7af6" stroke-width="0.75" fill="none"/>
<clipPath id="h24"><rect x="544.61" y="181.50" width="41.73" height="5.50"/></clipPath><path clip-path="url(#h24)" d="M534.90,187.50L541.40,181.00M539.10,187.50L545.60,181.00M543.30,187.50L549.80,181.00M547.50,187.50L554.00,181.00M551.70,187.50L558.20,181.00M555.90,187.50L562.40,181.00M560.10,187.50L566.60,181.00M564.30,187.50L570.80,181.00M568.50,187.50L575.00,181.00M572.70,187.50L579.20,181.00M576.90,187.50L583.40,181.00M581.10,187.50L587.60,181.00M585.30,187.50L591.80,181.00M589.50,187.50L596.00,181.00" stroke="#7a7af6" stroke-width="0.75" fill="none"/>
<clipPath id="h25"><rect x="586.34" y="178.00" width="41.73" height="11.00"/></clipPath><path clip-path="url(#h25)" d="M570.70,189.50L582.70,177.50M574.90,189.50L586.90,177.50M579.10,189.50L591.10,177.50M583.30,189.50L595.30,177.50M587.50,189.50L599.50,177.50M591.70,189.50L603.70,177.50M595.90,189.50L607.90,177.50M600.10,189.50L612.10,177.50M604.30,189.50L616.30,177.50M608.50,189.50L620.50,177.50M612.70,189.50L624.70,177.50M616.90,189.50L628.90,177.50M621.10,189.50L633.10,177.50M625.30,189.50L637.30,177.50M629.50,189.50L641.50,177.50" stroke="#7a7af6" stroke-width="0.75" fill="none"/>
<clipPath id="h26"><rect x="628.07" y="180.00" width="41.73" height="8.00"/></clipPath><path clip-path="url(#h26)" d="M617.90,188.50L626.90,179.50M622.10,188.50L631.10,179.50M626.30,188.50L635.30,179.50M630.50,188.50L639.50,179.50M634.70,188.50L643.70,179.50M638.90,188.50L647.90,179.50M643.10,188.50L652.10,179.50M647.30,188.50L656.30,179.50M651.50,188.50L660.50,179.50M655.70,188.50L664.70,179.50M659.90,188.50L668.90,179.50M664.10,188.50L673.10,179.50M668.30,188.50L677.30,179.50M672.50,188.50L681.50,179.50" stroke="#7a7af6" stroke-width="0.75" fill="none"/>
<path d="M377.7,184.40H669.8" stroke="#222" stroke-width="0.8" stroke-dasharray="1.7,1.7"/>
<rect x="377.7" y="164.9" width="292.10" height="39.40" fill="none" stroke="#3a3a3a" stroke-width="0.9"/>
<path d="M377.7,204.10h3.4 M669.8,204.10h-3.4" stroke="#222" stroke-width="0.6"/>
<path d="M377.7,202.13h1.9 M669.8,202.13h-1.9" stroke="#222" stroke-width="0.6"/>
<path d="M377.7,200.16h1.9 M669.8,200.16h-1.9" stroke="#222" stroke-width="0.6"/>
<path d="M377.7,198.19h1.9 M669.8,198.19h-1.9" stroke="#222" stroke-width="0.6"/>
<path d="M377.7,196.22h1.9 M669.8,196.22h-1.9" stroke="#222" stroke-width="0.6"/>
<path d="M377.7,194.25h3.4 M669.8,194.25h-3.4" stroke="#222" stroke-width="0.6"/>
<path d="M377.7,192.28h1.9 M669.8,192.28h-1.9" stroke="#222" stroke-width="0.6"/>
<path d="M377.7,190.31h1.9 M669.8,190.31h-1.9" stroke="#222" stroke-width="0.6"/>
<path d="M377.7,188.34h1.9 M669.8,188.34h-1.9" stroke="#222" stroke-width="0.6"/>
<path d="M377.7,186.37h1.9 M669.8,186.37h-1.9" stroke="#222" stroke-width="0.6"/>
<path d="M377.7,184.40h3.4 M669.8,184.40h-3.4" stroke="#222" stroke-width="0.6"/>
<path d="M377.7,182.43h1.9 M669.8,182.43h-1.9" stroke="#222" stroke-width="0.6"/>
<path d="M377.7,180.46h1.9 M669.8,180.46h-1.9" stroke="#222" stroke-width="0.6"/>
<path d="M377.7,178.49h1.9 M669.8,178.49h-1.9" stroke="#222" stroke-width="0.6"/>
<path d="M377.7,176.52h1.9 M669.8,176.52h-1.9" stroke="#222" stroke-width="0.6"/>
<path d="M377.7,174.55h3.4 M669.8,174.55h-3.4" stroke="#222" stroke-width="0.6"/>
<path d="M377.7,172.58h1.9 M669.8,172.58h-1.9" stroke="#222" stroke-width="0.6"/>
<path d="M377.7,170.61h1.9 M669.8,170.61h-1.9" stroke="#222" stroke-width="0.6"/>
<path d="M377.7,168.64h1.9 M669.8,168.64h-1.9" stroke="#222" stroke-width="0.6"/>
<path d="M377.7,166.67h1.9 M669.8,166.67h-1.9" stroke="#222" stroke-width="0.6"/>
<path d="M377.7,164.70h3.4 M669.8,164.70h-3.4" stroke="#222" stroke-width="0.6"/>
<path d="M419.43,204.3v-3" stroke="#222" stroke-width="0.7"/>
<path d="M461.16,204.3v-3" stroke="#222" stroke-width="0.7"/>
<path d="M502.89,204.3v-3" stroke="#222" stroke-width="0.7"/>
<path d="M544.61,204.3v-3" stroke="#222" stroke-width="0.7"/>
<path d="M586.34,204.3v-3" stroke="#222" stroke-width="0.7"/>
<path d="M628.07,204.3v-3" stroke="#222" stroke-width="0.7"/>
<text x="375.7" y="207.10" text-anchor="end">0.8</text>
<text x="375.7" y="197.25" text-anchor="end">0.9</text>
<text x="375.7" y="187.40" text-anchor="end">1</text>
<text x="375.7" y="177.55" text-anchor="end">1.1</text>
<clipPath id="cm377"><rect x="377.7" y="2.6" width="292.10" height="161.90"/></clipPath>
<clipPath id="cr377"><rect x="377.7" y="164.9" width="292.10" height="39.40"/></clipPath>
<g clip-path="url(#cm377)">
<circle cx="398.56" cy="74.10" r="2" fill="#000"/>
<circle cx="440.29" cy="75.00" r="2" fill="#000"/>
<circle cx="482.02" cy="55.50" r="2" fill="#000"/>
<circle cx="523.75" cy="86.70" r="2" fill="#000"/>
<circle cx="565.48" cy="127.90" r="2" fill="#000"/>
<circle cx="607.21" cy="151.00" r="2" fill="#000"/>
<circle cx="648.94" cy="152.10" r="2" fill="#000"/>
</g>
<g clip-path="url(#cr377)">
<circle cx="398.56" cy="184.40" r="2" fill="#000"/>
<circle cx="440.29" cy="185.60" r="2" fill="#000"/>
<circle cx="482.02" cy="183.60" r="2" fill="#000"/>
<circle cx="523.75" cy="185.90" r="2" fill="#000"/>
<path d="M565.48,180.00V188.00" stroke="#000" stroke-width="1"/>
<circle cx="565.48" cy="184.10" r="2" fill="#000"/>
<path d="M607.21,175.60V190.00" stroke="#000" stroke-width="1"/>
<circle cx="607.21" cy="183.60" r="2" fill="#000"/>
<path d="M648.94,175.00V189.60" stroke="#000" stroke-width="1"/>
<circle cx="648.94" cy="182.60" r="2" fill="#000"/>
</g>
<text transform="translate(397.36,212.6) rotate(19)" font-size="7.0">STXS 1 SR</text>
<text transform="translate(439.09,212.6) rotate(19)" font-size="7.0">STXS 2 SR</text>
<text transform="translate(480.82,212.6) rotate(19)" font-size="7.0">STXS 3 SR</text>
<text transform="translate(522.55,212.6) rotate(19)" font-size="7.0">STXS 4 SR</text>
<text transform="translate(564.28,212.6) rotate(19)" font-size="7.0">STXS 5 SR</text>
<text transform="translate(606.01,212.6) rotate(19)" font-size="7.0">STXS 6 SR</text>
<text transform="translate(647.74,212.6) rotate(19)" font-size="7.0">Boosted SR</text>
<text transform="translate(353.4,3.0) rotate(-90)" text-anchor="end">Events</text>
<text transform="translate(353.4,163.2) rotate(-90)" text-anchor="end">Data / Pred.</text>
<text x="387.4" y="16.9" font-weight="bold" font-style="italic" font-size="7.8">ATLAS</text>
<path d="M387.50,24.9l0.8,-0.5l1.0,3.2l1.3,-6.2h4.8" fill="none" stroke="#111" stroke-width="0.6"/>
<text x="391.3" y="27.5" font-size="7.6" letter-spacing="0.1">s = 13 TeV, 140 fb<tspan dy="-3.2" font-size="5.4">-1</tspan></text>
<text x="387.4" y="37.6">Single-lepton SR</text>
<text x="387.4" y="47.8" letter-spacing="0.07">Post-fit, μ = 0.81</text>
<ellipse cx="523.4" cy="14.8" rx="2.1" ry="2.6" fill="#000"/>
<text x="528.8" y="17.2">Data</text>
<rect x="569.0" y="11.2" width="7.4" height="7.2" fill="#c0200a" stroke="#2a2a2a" stroke-width="0.9"/>
<text x="578.6" y="17.2"><tspan font-style="italic">t</tspan><tspan font-style="italic" dx="0.6">t</tspan><tspan font-style="italic" dx="0.8">H</tspan></text>
<path d="M581.30,11.70h3.2" stroke="#111" stroke-width="0.9"/>
<rect x="611.0" y="11.2" width="7.4" height="7.2" fill="#93dbe0" stroke="#2a2a2a" stroke-width="0.9"/>
<text x="620.6" y="17.2"><tspan font-style="italic">t</tspan><tspan font-style="italic" dx="0.6">t</tspan><tspan dx="0.9"> +  ≥ 2</tspan><tspan font-style="italic" dx="0">b</tspan></text>
<path d="M623.30,11.70h3.2" stroke="#111" stroke-width="0.9"/>
<rect x="519.2" y="21.4" width="7.4" height="7.2" fill="#3e8fdc" stroke="#2a2a2a" stroke-width="0.9"/>
<text x="528.8" y="27.4"><tspan font-style="italic">t</tspan><tspan font-style="italic" dx="0.6">t</tspan><tspan dx="0.9"> + 1</tspan><tspan font-style="italic" dx="0">b</tspan></text>
<path d="M531.50,21.90h3.2" stroke="#111" stroke-width="0.9"/>
<rect x="569.0" y="21.4" width="7.4" height="7.2" fill="#8a2bbf" stroke="#2a2a2a" stroke-width="0.9"/>
<text x="578.6" y="27.4"><tspan font-style="italic">t</tspan><tspan font-style="italic" dx="0.6">t</tspan><tspan dx="0.9"> + 1</tspan><tspan font-style="italic" dx="0">B</tspan></text>
<path d="M581.30,21.90h3.2" stroke="#111" stroke-width="0.9"/>
<rect x="611.0" y="21.4" width="7.4" height="7.2" fill="#92a5a4" stroke="#2a2a2a" stroke-width="0.9"/>
<text x="620.6" y="27.4"><tspan font-style="italic">t</tspan><tspan font-style="italic" dx="0.6">t</tspan><tspan dx="0.9"> +  ≥ 1</tspan><tspan font-style="italic" dx="0">c</tspan></text>
<path d="M623.30,21.90h3.2" stroke="#111" stroke-width="0.9"/>
<rect x="519.2" y="31.7" width="7.4" height="7.2" fill="#b07060" stroke="#2a2a2a" stroke-width="0.9"/>
<text x="528.8" y="37.7"><tspan font-style="italic">t</tspan><tspan font-style="italic" dx="0.6">t</tspan><tspan dx="0.9"> + light</tspan></text>
<path d="M531.50,32.20h3.2" stroke="#111" stroke-width="0.9"/>
<rect x="569.0" y="31.7" width="7.4" height="7.2" fill="#e86a00" stroke="#2a2a2a" stroke-width="0.9"/>
<text x="578.6" y="37.7"><tspan font-style="italic">t</tspan><tspan font-style="italic" dx="0.6">t</tspan><tspan font-style="italic" dx="0.8">Z</tspan></text>
<path d="M581.30,32.20h3.2" stroke="#111" stroke-width="0.9"/>
<rect x="611.0" y="31.7" width="7.4" height="7.2" fill="#c4ad6a" stroke="#2a2a2a" stroke-width="0.9"/>
<text x="620.6" y="37.7"><tspan font-style="italic" dx="0">tW</tspan></text>
<rect x="519.2" y="42.0" width="7.4" height="7.2" fill="#6b7280" stroke="#2a2a2a" stroke-width="0.9"/>
<text x="528.8" y="48.0"><tspan font-style="italic" dx="0">W</tspan> + jets</text>
<rect x="569.0" y="42.0" width="7.4" height="7.2" fill="#fba818" stroke="#2a2a2a" stroke-width="0.9"/>
<text x="578.6" y="48.0">Other</text>
<path d="M611.0,48.5L617.1,42.5M613.1,49.9L618.8,43.3" stroke="#8080f8" stroke-width="0.9" fill="none"/>
<text x="620.6" y="48.0">Uncertainty</text>
<text class="cap" x="167" y="253.2" text-anchor="middle">(a)</text>
<text class="cap" x="513" y="253.2" text-anchor="middle">(b)</text>
</svg>
</body></html>
